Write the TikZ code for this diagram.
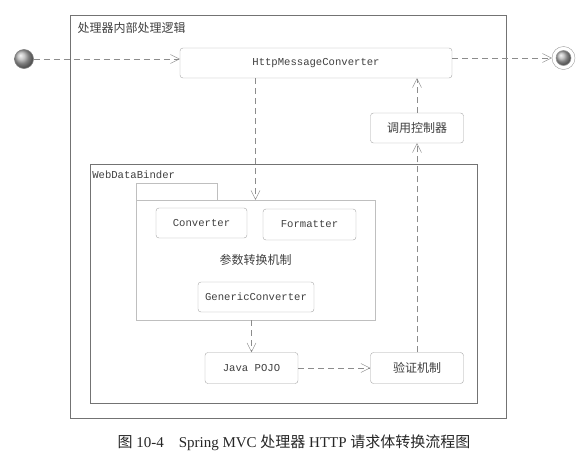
\documentclass[tikz,border=0pt]{standalone}
\usepackage{fontspec}
\setmainfont{Liberation Serif}
\setmonofont{Liberation Mono}
\newfontfamily\cjk{Noto Sans CJK SC}
\usetikzlibrary{arrows.meta, positioning, shadings}

\begin{document}
\begin{tikzpicture}[x=1pt, y=-1pt, semithick,
        every node/.style={text=black!75, font=\fontsize{10.6}{12}\ttfamily},
        box/.style={draw=black!35, thin, rounded corners=3pt, fill=white, minimum width=93pt, minimum height=30pt, inner sep=0pt},
        frame/.style={draw=black!55, line width=0.7pt},
        flow/.style={draw=black!45, thin, dash pattern=on 6pt off 4pt, -{Straight Barb[length=9pt, width=9pt]}},
        zh/.style={font=\fontsize{12}{14}\cjk}]
        \useasboundingbox (0,0) rectangle (585,461);

        % Frames
        \draw[frame] (70,15) rectangle (506,418);
        \node[zh, anchor=west] (title) at (74,28) {处理器内部处理逻辑};
        \draw[frame] (90,164) rectangle (477,403);
        \node[anchor=west, inner sep=2pt] (binder) at (90,175) {WebDataBinder};

        % Start and end
        \node[circle, draw=black!50, ball color=black!30, minimum size=19pt, inner sep=0pt] (start) at (24,59) {};
        \node[circle, draw=black!40, thin, minimum size=23pt, inner sep=0pt] (stop) at (563.5,58) {};
        \node[circle, draw=black!40, ball color=black!30, minimum size=15pt, inner sep=0pt] (stopdot) at (stop) {};

        % Converter package
        \node[draw=black!25, thin, minimum width=239pt, minimum height=120pt, zh] (pkg) at (255.5,260) {参数转换机制};
        \draw[draw=black!25, thin] (pkg.north west) -- ++(0,-17) -- ++(81,0) -- ++(0,17);
        \node[box, minimum width=91pt] (conv) at (201.5,223) {Converter};
        \node[box, minimum height=31pt] (fmt) at (309.5,224.5) {Formatter};
        \node[box, minimum width=116pt] (gen) at (256,297) {GenericConverter};

        % Steps
        \node[box, minimum width=272pt] (http) at (316,63) {HttpMessageConverter};
        \node[box, zh] (ctrl) at (417,128) {调用控制器};
        \node[box, minimum height=31pt] (pojo) at (251.5,368) {Java POJO};
        \node[box, minimum height=31pt, zh] (valid) at (417,368) {验证机制};

        % Flow
        \draw[flow] (start) -- (start -| http.west);
        \draw[flow] (http.east |- stop) -- (stop);
        \draw[flow] (http.south -| pkg.north) -- (pkg.north);
        \draw[flow] (pkg.south -| pojo.north) -- (pojo.north);
        \draw[flow] (pojo) -- (valid);
        \draw[flow] (valid) -- (ctrl);
        \draw[flow] (ctrl) -- (http.south -| ctrl);

        % Caption
        \node[font=\fontsize{15}{18}\rmfamily, text=black!85] (caption) at (294,443) {{\cjk 图} 10-4\quad Spring MVC {\cjk 处理器} HTTP {\cjk 请求体转换流程图}};
\end{tikzpicture}
\end{document}
